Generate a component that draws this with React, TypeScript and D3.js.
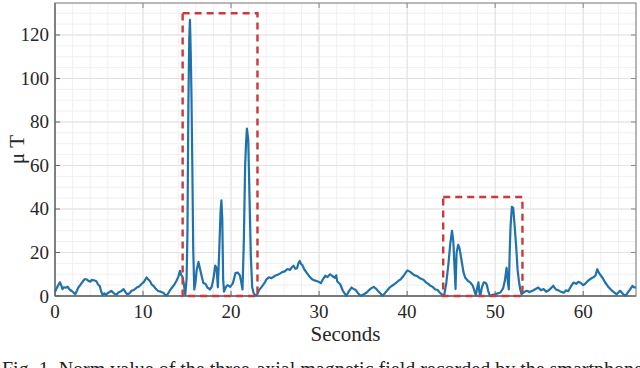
import React from "react";
import * as d3 from "d3";

// magnetic field norm
const seconds = [
  0, 0.3, 0.55, 0.7, 0.85, 1.0, 1.2, 1.45, 1.65, 1.9, 2.1, 2.3, 2.5, 2.65, 2.9, 3.2, 3.4, 3.6, 3.8, 4.0,
  4.2, 4.5, 4.7, 4.9, 5.1, 5.25, 5.4, 5.6, 5.8, 6.0, 6.2, 6.4, 6.6, 6.8, 7.0, 7.2, 7.5, 7.8, 8.0, 8.2,
  8.45, 8.7, 9.0, 9.3, 9.55, 9.8, 10.1, 10.4, 10.6, 10.8, 11.0, 11.2, 11.45, 11.7, 12.0, 12.3, 12.5, 12.7, 12.9, 13.1,
  13.3, 13.55, 13.8, 14.0, 14.2, 14.35, 14.5, 14.65, 14.8, 14.95, 15.05, 15.15, 15.25, 15.33, 15.42, 15.5, 15.6, 15.7, 15.82, 15.95,
  16.1, 16.3, 16.5, 16.7, 16.85, 17.1, 17.3, 17.6, 17.8, 18.0, 18.2, 18.35, 18.5, 18.65, 18.8, 18.9, 19.0, 19.1, 19.2, 19.4,
  19.6, 19.9, 20.2, 20.5, 20.75, 21.0, 21.15, 21.3, 21.45, 21.6, 21.7, 21.8, 21.95, 22.1, 22.25, 22.4, 22.55, 22.75, 22.95, 23.2,
  23.5, 23.8, 24.0, 24.3, 24.6, 25.0, 25.3, 25.6, 25.8, 26.1, 26.4, 26.7, 26.9, 27.1, 27.3, 27.5, 27.65, 27.8, 27.95, 28.1,
  28.3, 28.6, 28.9, 29.2, 29.45, 29.7, 30.0, 30.2, 30.45, 30.7, 30.95, 31.25, 31.5, 31.8, 31.95, 32.05, 32.4, 32.7, 32.9, 33.1,
  33.35, 33.7, 33.9, 34.1, 34.4, 34.7, 35.1, 35.4, 35.6, 35.9, 36.2, 36.45, 36.7, 37.0, 37.2, 37.45, 37.7, 38.0, 38.25, 38.6,
  39.0, 39.3, 39.6, 39.85, 40.05, 40.3, 40.5, 40.8, 41.1, 41.4, 41.6, 41.85, 42.1, 42.4, 42.6, 42.9, 43.2, 43.45, 43.7, 43.95,
  44.2, 44.45, 44.7, 44.9, 45.1, 45.25, 45.4, 45.5, 45.62, 45.8, 45.95, 46.2, 46.4, 46.6, 46.9, 47.2, 47.45, 47.6, 47.8, 47.95,
  48.1, 48.2, 48.3, 48.5, 48.7, 48.9, 49.05, 49.2, 49.4, 49.7, 50.0, 50.3, 50.6, 50.9, 51.1, 51.3, 51.45, 51.55, 51.65, 51.75,
  51.9, 52.05, 52.2, 52.4, 52.55, 52.7, 52.85, 53.0, 53.3, 53.6, 53.9, 54.3, 54.6, 54.9, 55.2, 55.5, 55.8, 56.05, 56.35, 56.6,
  56.9, 57.2, 57.5, 57.8, 58.05, 58.3, 58.6, 58.9, 59.2, 59.45, 59.7, 60.0, 60.2, 60.5, 60.8, 61.1, 61.4, 61.6, 61.75, 61.9,
  62.2, 62.5, 62.8, 63.1, 63.4, 63.8, 64.0, 64.2, 64.5, 64.8, 65.1, 65.35, 65.6, 65.8, 66.0,
];
const microTesla = [
  2.0, 4.5, 6.3, 5.0, 3.2, 4.0, 3.8, 4.2, 3.0, 2.3, 1.6, 0.8, 2.5, 3.9, 5.2, 6.9, 7.8, 7.6, 7.0, 6.6,
  7.4, 7.1, 6.8, 5.3, 4.5, 2.0, 0.5, 1.2, 0.6, 1.4, 1.8, 2.4, 1.5, 0.9, 0.7, 1.6, 2.2, 3.1, 1.8, 0.8,
  1.2, 2.4, 2.9, 3.9, 4.4, 5.4, 6.5, 8.5, 7.6, 6.8, 5.2, 4.6, 3.3, 2.3, 2.0, 1.5, 0.6, 0.2, 1.5, 2.8,
  3.9, 5.2, 7.0, 8.8, 11.6, 9.5, 8.8, 5.0, 0.5, 8, 30, 88, 118, 127, 112, 93, 60, 22, 3, 6,
  12, 15.6, 12, 8.5, 6.0, 5.5, 4.0, 3.0, 4.2, 8, 14, 13, 4, 20, 38, 44, 36, 8, 2, 4.0,
  5.0, 4.2, 5.8, 10.5, 10.8, 9.5, 6.5, 3.0, 25, 60, 70, 77, 72, 45, 18, 4, 1.5, 0.2, 0.5, 2.8,
  4.3, 6.0, 7.5, 8.6, 8.2, 9.3, 9.8, 10.4, 11.0, 11.3, 12.4, 12.0, 13.2, 13.9, 12.5, 12.8, 15.0, 16.1, 14.7, 14.2,
  12.4, 10.6, 9.0, 7.7, 7.2, 6.9, 6.4, 5.9, 7.8, 9.3, 8.7, 10.0, 9.2, 8.4, 9.5, 6.8, 5.4, 2.4, 1.2, 0.1,
  2.0, 3.9, 3.2, 3.0, 1.4, 0.1, 0.8, 1.6, 2.4, 3.5, 4.2, 3.4, 2.3, 1.0, 0.1, 1.2, 2.4, 3.8, 4.6, 5.6,
  6.9, 7.8, 9.3, 10.8, 11.8, 11.2, 10.6, 9.6, 9.2, 8.3, 7.9, 7.5, 6.4, 5.6, 4.8, 4.2, 3.0, 2.8, 1.6, 0.7,
  0.1, 6, 15, 24, 30, 25, 12, 3.2, 20, 23.5, 22, 16, 11, 8.4, 7.0, 6.1, 4.8, 3.0, 0.2, 3.5,
  6.3, 2.0, 0.1, 4.0, 6.3, 6.1, 5.2, 2.5, 0.1, 0.5, 0.8, 1.2, 1.6, 3.5, 7.0, 13, 6, 3, 20, 32,
  41, 40.5, 33, 22, 12, 6.8, 3.0, 0.8, 1.8, 2.4, 1.8, 2.5, 3.2, 3.9, 2.6, 3.2, 2.0, 2.5, 3.6, 4.7,
  3.0, 2.6, 1.9, 1.5, 2.6, 2.2, 4.4, 6.2, 5.6, 6.5, 6.1, 5.0, 5.5, 6.8, 7.8, 8.5, 9.4, 12.3, 11.0, 10.0,
  8.4, 6.2, 4.5, 3.1, 2.0, 0.8, 1.6, 2.4, 1.0, 0.1, 1.8, 3.2, 4.6, 4.0, 3.9,
];

// dashed boxes: [start s, end s, top µT]
const boxStart = [14.5, 44.1];
const boxEnd = [23.0, 53.1];
const boxTop = [130, 45.5];

const xTicks = [0, 10, 20, 30, 40, 50, 60];
const yTicks = [0, 20, 40, 60, 80, 100, 120];

const W = 640;
const H = 368;
const margin = { left: 55, right: 4, top: 3, bottom: 72 };
const serif = "'Liberation Serif', 'Times New Roman', serif";

const App = () => {
  let x = d3.scaleLinear().domain([0, 66]).range([margin.left, W - margin.right]);
  let y = d3.scaleLinear().domain([0, 134.7]).range([H - margin.bottom, margin.top]);

  let xMinor = d3.range(0, 66.01, 2);
  let yMinor = d3.range(0, 134.7, 5);

  let data = seconds.map((s, i) => [s, microTesla[i]] as [number, number]);
  let line = d3
    .line<[number, number]>()
    .x((d) => x(d[0]))
    .y((d) => y(d[1]));

  let x0 = x.range()[0];
  let x1 = x.range()[1];
  let y0 = y.range()[0];
  let y1 = y.range()[1];

  return (
    <div style={{ position: "absolute", left: 0, top: 0, width: W, height: H, background: "#fff" }}>
      <svg width={W} height={H} style={{ display: "block" }}>
        {/* minor grid */}
        {xMinor.map((v) => (
          <line key={"xm" + v} x1={x(v)} x2={x(v)} y1={y0} y2={y1} stroke="#f0f0f0" strokeWidth={1} />
        ))}
        {yMinor.map((v) => (
          <line key={"ym" + v} x1={x0} x2={x1} y1={y(v)} y2={y(v)} stroke="#f0f0f0" strokeWidth={1} />
        ))}
        {/* major grid */}
        {xTicks.map((v) => (
          <line key={"xg" + v} x1={x(v)} x2={x(v)} y1={y0} y2={y1} stroke="#e2e2e2" strokeWidth={1} />
        ))}
        {yTicks.map((v) => (
          <line key={"yg" + v} x1={x0} x2={x1} y1={y(v)} y2={y(v)} stroke="#e2e2e2" strokeWidth={1} />
        ))}

        {/* axes box */}
        <rect x={x0} y={y1} width={x1 - x0} height={y0 - y1} fill="none" stroke="#8a8a8a" strokeWidth={1.2} />
        <line x1={x0} x2={x1} y1={y0} y2={y0} stroke="#666" strokeWidth={1.3} />
        <line x1={x0} x2={x0} y1={y0} y2={y1} stroke="#666" strokeWidth={1.3} />
        {xTicks.map((v) => (
          <g key={"xt" + v}>
            <line x1={x(v)} x2={x(v)} y1={y0} y2={y0 - 5} stroke="#666" />
            <line x1={x(v)} x2={x(v)} y1={y1} y2={y1 + 5} stroke="#888" />
            <text x={x(v)} y={y0 + 22} textAnchor="middle" fontFamily={serif} fontSize={19} fill="#262626">
              {v}
            </text>
          </g>
        ))}
        {yTicks.map((v) => (
          <g key={"yt" + v}>
            <line x1={x0} x2={x0 + 5} y1={y(v)} y2={y(v)} stroke="#666" />
            <line x1={x1} x2={x1 - 5} y1={y(v)} y2={y(v)} stroke="#888" />
            <text x={x0 - 6} y={y(v) + 6.5} textAnchor="end" fontFamily={serif} fontSize={19} fill="#262626">
              {v}
            </text>
          </g>
        ))}

        {/* signal */}
        <path d={line(data) || ""} fill="none" stroke="#1f72ab" strokeWidth={2.2} strokeLinejoin="round" />

        {/* highlighted events */}
        {boxStart.map((s, i) => (
          <rect
            key={"box" + i}
            x={x(s)}
            y={y(boxTop[i])}
            width={x(boxEnd[i]) - x(s)}
            height={y(0) - y(boxTop[i])}
            fill="none"
            stroke="#c93a3a"
            strokeWidth={2.4}
            strokeDasharray="7,5"
          />
        ))}

        <text x={(x0 + x1) / 2} y={y0 + 45} textAnchor="middle" fontFamily={serif} fontSize={21} fill="#262626">
          Seconds
        </text>
        <text
          transform={`translate(24, ${(y0 + y1) / 2}) rotate(-90)`}
          textAnchor="middle"
          fontFamily={serif}
          fontSize={21}
          fill="#262626"
        >
          μ T
        </text>

        {/* caption runs off the bottom edge, as in the source figure */}
        <text x={2} y={376} fontFamily={serif} fontSize={20} fill="#222">
          Fig. 1.  Norm value of the three-axial magnetic field recorded by the smartphone
        </text>
      </svg>
    </div>
  );
};

export default App;
